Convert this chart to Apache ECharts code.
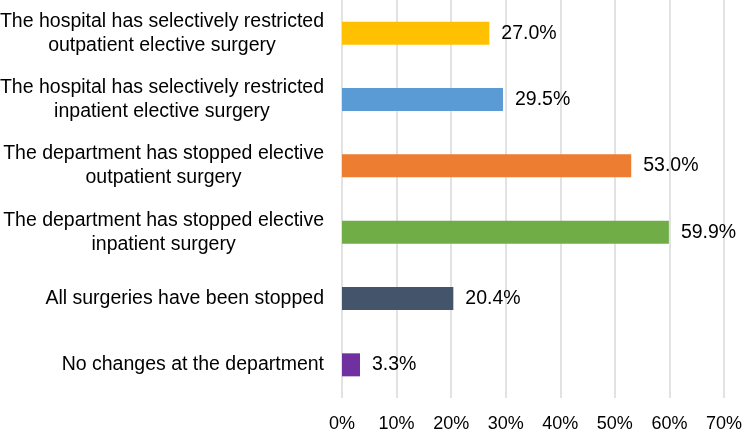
<!DOCTYPE html>
<html>
<head>
<meta charset="utf-8">
<script src="https://cdn.jsdelivr.net/npm/echarts@6/dist/echarts.min.js"></script>
<style>html,body{margin:0;padding:0;background:#fff}#c{width:745px;height:435px}</style>
</head>
<body>
<div id="c"></div>
<script>
const categories = [
  "The hospital has selectively restricted\noutpatient elective surgery",
  "The hospital has selectively restricted\ninpatient elective surgery",
  "The department has stopped elective\noutpatient surgery",
  "The department has stopped elective\ninpatient surgery",
  "All surgeries have been stopped",
  "No changes at the department"
];
const values = [27.0, 29.5, 53.0, 59.9, 20.4, 3.3];
const colors = ["#FFC000", "#5B9BD5", "#ED7D31", "#70AD47", "#44546A", "#7030A0"];
const xTicks = [0, 10, 20, 30, 40, 50, 60, 70];

const chart = echarts.init(document.getElementById('c'));
chart.setOption({
  animation: false,
  grid: {left: 342, right: 21, top: 0, bottom: 37, containLabel: false, outerBoundsMode: 'none'},
  xAxis: {
    type: 'value', min: xTicks[0], max: xTicks[xTicks.length - 1], interval: 10,
    axisLine: {show: false}, axisTick: {show: false},
    splitLine: {show: true, lineStyle: {color: '#D9D9D9', width: 1.5}},
    axisLabel: {formatter: v => v + '%', fontFamily: 'Liberation Sans', fontSize: 18, color: '#000', margin: 17}
  },
  yAxis: {
    type: 'category', data: categories, inverse: true,
    axisLine: {show: false}, axisTick: {show: false},
    axisLabel: {
      margin: 18,
      formatter: v => v.split('\n').map(s => '{a|' + s + '}').join('\n'),
      rich: {a: {align: 'center', fontFamily: 'Liberation Sans', fontSize: 19.5, lineHeight: 24, color: '#000'}}
    }
  },
  series: [{
    type: 'bar', barWidth: 23,
    data: values.map((v, i) => ({value: v, itemStyle: {color: colors[i]}})),
    label: {show: true, position: 'right', distance: 12, formatter: p => p.value.toFixed(1) + '%',
      fontFamily: 'Liberation Sans', fontSize: 19.5, color: '#000'}
  }]
});
</script>
</body>
</html>
